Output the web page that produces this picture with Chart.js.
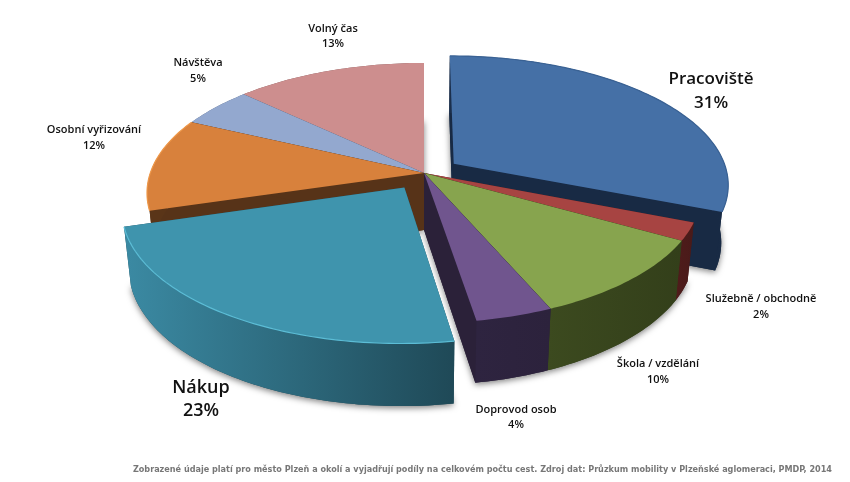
<!DOCTYPE html>
<html lang="cs">
<head>
<meta charset="utf-8">
<title>Podíly cest podle účelu</title>
<script src="https://cdn.jsdelivr.net/npm/chart.js@4"></script>
<style>
    body { margin: 0; background: #fff; }
    canvas { display: block; }
</style>
</head>
<body>
<canvas id="pieChart" width="850" height="482"></canvas>
<script>
// Data (labels show the rounded share)
const categories = ["Pracoviště", "Služebně / obchodně", "Škola / vzdělání", "Doprovod osob", "Nákup", "Osobní vyřizování", "Návštěva", "Volný čas"];
const shares = [31, 2.2, 10.3, 3.9, 23, 11.6, 5, 13];
const note = "Zobrazené údaje platí pro město Plzeň a okolí a vyjadřují podíly na celkovém počtu cest. Zdroj dat: Průzkum mobility v Plzeňské aglomeraci, PMDP, 2014";

// Styles
const topColors = ["#4570a6", "#a74442", "#87a44e", "#70558e", "#3f94ad", "#d8813c", "#93a8cf", "#cd8e8e"];
const sideColors = [
    ["#1b2f4c", "#182a44"], ["#4f1c1b", "#491a19"], ["#3c4a1f", "#333f1a"], ["#2e2440", "#2c223c"],
    ["#3b8aa3", "#1f4957"], ["#5a3518", "#5a3518"], ["#56657f", "#56657f"], ["#7c5555", "#7c5555"]
];
const faceColors = ["#182a44", "#491a19", "#333f1a", "#2b2139", "#1f4957", "#573318", "#56657f", "#7c5555"];
const rimColors = ["#3a6294", null, null, null, "#5cbdd6", "#f0994a", null, null];
const explode = [30, 0, 0, 0, 30, 0, 0, 0];
const labelSpots = [
    [711, 79, 103, 17], [761, 299, 315, 11], [658, 364, 380, 11], [516, 410, 425, 11],
    [201, 388, 411, 18], [94, 130, 146, 11], [198, 63, 79, 11], [333, 29, 44, 11]
];

// Tilted view of the pie: flat disc coordinates -> screen
const view = { cx: 424, cy: 173, sx: 273.7, sy: 127, k: 0.154, depth: 57, depthGrow: 5, shrink: 0.977 };

function project(u, v, lower) {
    const w = 1 - view.k * v;
    let x = u * view.sx / w;
    let y = v * view.sy / w;
    if (lower) {
        x *= view.shrink;
        y += view.depth + view.depthGrow * Math.max(v, 0);
    }
    return [view.cx + x, view.cy + y];
}

// Outline of one arc element in disc coordinates
function sliceGeometry(el) {
    const mid = (el.startAngle + el.endAngle) / 2;
    const d = el.options.offset / el.outerRadius;
    const ox = Math.cos(mid) * d;
    const oy = Math.sin(mid) * d;
    const rim = [];
    const steps = Math.max(4, Math.ceil((el.endAngle - el.startAngle) / 0.02));
    for (let s = 0; s <= steps; s++) {
        const a = el.startAngle + (el.endAngle - el.startAngle) * s / steps;
        rim.push([ox + Math.cos(a), oy + Math.sin(a)]);
    }
    return { ox, oy, rim };
}

function polygon(ctx, pts) {
    ctx.beginPath();
    pts.forEach((p, i) => i ? ctx.lineTo(p[0], p[1]) : ctx.moveTo(p[0], p[1]));
    ctx.closePath();
}

function faces(g) {
    const apexTop = project(g.ox, g.oy, false);
    const apexLow = project(g.ox, g.oy, true);
    const rimTop = g.rim.map(p => project(p[0], p[1], false));
    const rimLow = g.rim.map(p => project(p[0], p[1], true));
    return {
        top: [apexTop, ...rimTop],
        low: [apexLow, ...rimLow],
        side: [...rimTop, ...rimLow.slice().reverse()],
        cutA: [apexTop, rimTop[0], rimLow[0], apexLow],
        cutB: [apexTop, rimTop[rimTop.length - 1], rimLow[rimLow.length - 1], apexLow],
        rimTop
    };
}

// Only the lower body casts a shadow, the top edges stay clean
function drawShadow(ctx, i, el) {
    const f = faces(sliceGeometry(el));
    ctx.save();
    ctx.shadowColor = "rgba(0,0,0,0.5)";
    ctx.shadowBlur = 6;
    ctx.shadowOffsetY = 2;
    ctx.fillStyle = faceColors[i];
    polygon(ctx, f.low);
    ctx.fill();
    ctx.restore();
}

function drawSlice(ctx, i, el) {
    const f = faces(sliceGeometry(el));
    ctx.fillStyle = faceColors[i];
    polygon(ctx, f.cutA); ctx.fill();
    polygon(ctx, f.cutB); ctx.fill();

    const xs = f.side.map(p => p[0]);
    const grad = ctx.createLinearGradient(Math.min(...xs), 0, Math.max(...xs), 0);
    grad.addColorStop(0, sideColors[i][0]);
    grad.addColorStop(1, sideColors[i][1]);
    ctx.fillStyle = grad;
    polygon(ctx, f.side); ctx.fill();

    ctx.fillStyle = el.options.backgroundColor;
    polygon(ctx, f.top); ctx.fill();

    if (rimColors[i]) {
        ctx.strokeStyle = rimColors[i];
        ctx.lineWidth = 1.2;
        ctx.beginPath();
        f.rimTop.forEach((p, n) => n ? ctx.lineTo(p[0], p[1]) : ctx.moveTo(p[0], p[1]));
        ctx.stroke();
    }
}

const tiltedPie = {
    id: "tiltedPie",
    beforeDatasetsDraw(chart) {
        const ctx = chart.ctx;
        const arcs = chart.getDatasetMeta(0).data;
        const backOrder = [0, 7, 6, 5, 1, 2, 3];
        const front = 4;
        ctx.save();
        backOrder.forEach(i => drawShadow(ctx, i, arcs[i]));
        backOrder.forEach(i => drawSlice(ctx, i, arcs[i]));
        drawShadow(ctx, front, arcs[front]);
        drawSlice(ctx, front, arcs[front]);
        ctx.restore();
        return false;
    },
    afterDraw(chart) {
        const ctx = chart.ctx;
        ctx.save();
        ctx.textAlign = "center";
        ctx.textBaseline = "middle";
        ctx.fillStyle = "#111";
        categories.forEach((name, i) => {
            const [x, y1, y2, size] = labelSpots[i];
            ctx.font = "600 " + size + 'px "Open Sans", sans-serif';
            ctx.fillText(name, x, y1);
            ctx.fillText(Math.round(shares[i]) + "%", x, y2);
        });
        ctx.textAlign = "right";
        ctx.fillStyle = "#777";
        ctx.font = 'bold 9px "DejaVu Sans Condensed", "DejaVu Sans", sans-serif';
        ctx.fontStretch = "condensed";
        ctx.fillText(note, 832, 470);
        ctx.restore();
    }
};

new Chart(document.getElementById("pieChart"), {
    type: "pie",
    data: {
        labels: categories,
        datasets: [{
            data: shares,
            backgroundColor: topColors,
            offset: explode,
            borderWidth: 0
        }]
    },
    options: {
        responsive: false,
        animation: false,
        plugins: {
            legend: { display: false },
            tooltip: { enabled: false }
        }
    },
    plugins: [tiltedPie]
});
</script>
</body>
</html>
